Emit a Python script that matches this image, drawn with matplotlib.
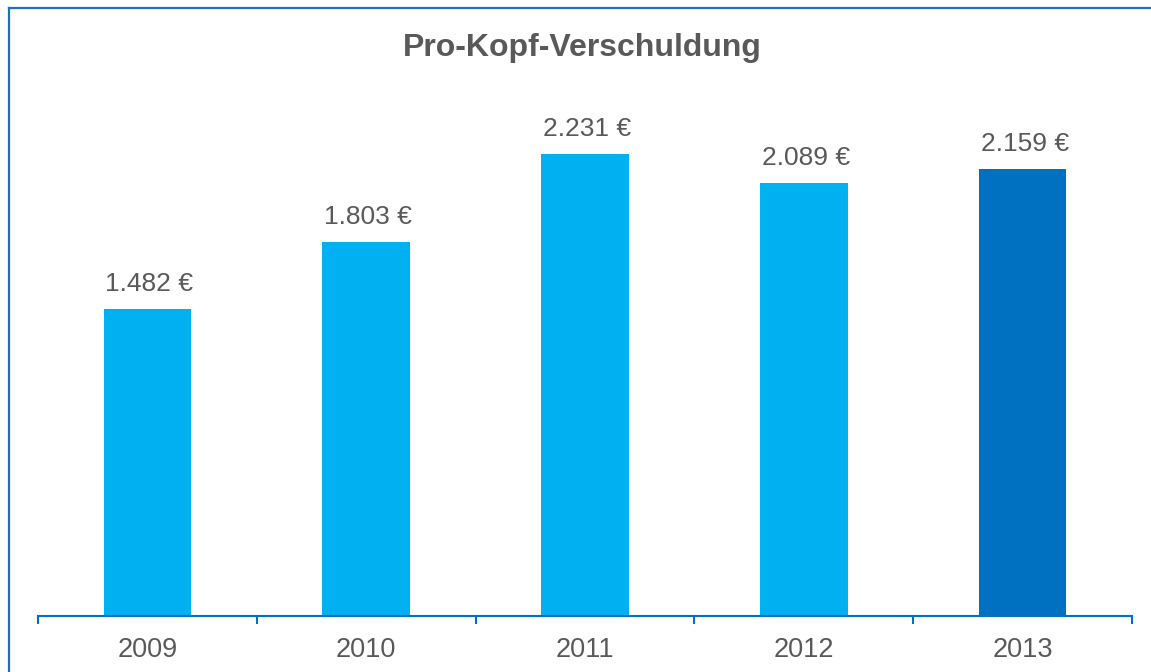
import numpy as np
import matplotlib.pyplot as plt
from matplotlib.lines import Line2D

# Daten
jahre = ['2009', '2010', '2011', '2012', '2013']
werte = [1482, 1803, 2231, 2089, 2159]
farben = ['#00B0F0', '#00B0F0', '#00B0F0', '#00B0F0', '#0070C0']

plt.rcParams['font.family'] = ['Liberation Sans', 'DejaVu Sans']
grau = '#595959'
blau = '#0070C0'

fig = plt.figure(figsize=(11.51, 6.72), dpi=100)
ax = fig.add_axes([38/1151, 56/672, 1094/1151, 516/672])

x = np.arange(len(jahre))
ax.bar(x, werte, width=0.4, color=farben, zorder=2)

# Werte über den Balken
for xi, v in zip(x, werte):
    txt = f'{v:,} €'.replace(',', '.')
    ax.annotate(txt, (xi, v), xytext=(1.5, 13), textcoords='offset points',
                ha='center', va='baseline', fontsize=19, color=grau)

ax.set_xlim(-0.5, len(jahre) - 0.5)
ax.set_ylim(0, 516 / 0.2072)

# Striche an den Kategoriegrenzen, Beschriftung in der Mitte
ax.set_xticks(np.arange(-0.5, len(jahre), 1.0))
ax.set_xticklabels([])
ax.set_xticks(x, minor=True)
ax.set_xticklabels(jahre, minor=True)
ax.tick_params(axis='x', which='major', length=6, width=1.5, color=blau, direction='out')
ax.tick_params(axis='x', which='minor', length=0, pad=15, labelsize=19.5, labelcolor=grau)
ax.set_yticks([])

for s in ['top', 'right', 'left']:
    ax.spines[s].set_visible(False)
ax.spines['bottom'].set_color(blau)
ax.spines['bottom'].set_linewidth(1.5)

fig.text(582.5/1151, (672-56)/672, 'Pro-Kopf-Verschuldung', ha='center', va='baseline',
         fontsize=23, fontweight='bold', color=grau)

# Rahmen links und oben
fig.add_artist(Line2D([8.5/1151, 8.5/1151], [0, 1 - 8/672], color='#1F6FC0', lw=1.6,
                      transform=fig.transFigure, solid_capstyle='projecting'))
fig.add_artist(Line2D([8.5/1151, 1], [1 - 8/672, 1 - 8/672], color='#1F6FC0', lw=1.6,
                      transform=fig.transFigure, solid_capstyle='projecting'))

fig.savefig('out.png', dpi=100)
